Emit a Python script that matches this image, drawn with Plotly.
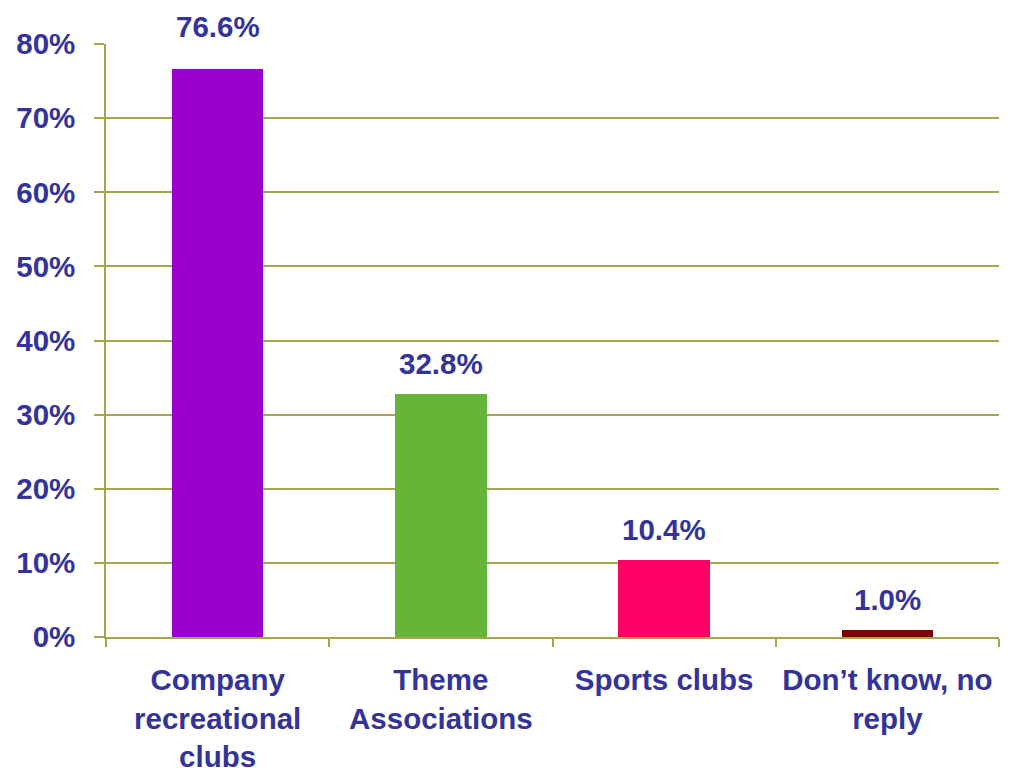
import plotly.graph_objects as go

# Survey results: share of respondents per type of club
categories = ["Company<br>recreational<br>clubs", "Theme<br>Associations", "Sports clubs", "Don’t know, no<br>reply"]
shares = [76.6, 32.8, 10.4, 1.0]
value_labels = ["76.6%", "32.8%", "10.4%", "1.0%"]
y_ticks = [0, 10, 20, 30, 40, 50, 60, 70, 80]
y_tick_labels = ["0%", "10%", "20%", "30%", "40%", "50%", "60%", "70%", "80%"]

bar_colors = ["#9900CC", "#66B539", "#FF0066", "#800000"]
label_shift = [24, 12, 12, 12]

text_color = "#333399"
grid_color = "#A6A64C"
font_family = "Liberation Sans, Arial, sans-serif"
font_size = 29.5

fig = go.Figure()
fig.add_trace(go.Bar(
    x=list(range(len(categories))),
    y=shares,
    marker=dict(color=bar_colors, line=dict(width=0)),
    width=0.41,
    hoverinfo="skip",
))

for i, (v, lab) in enumerate(zip(shares, value_labels)):
    fig.add_annotation(
        x=i, y=v, text=f"<b>{lab}</b>", showarrow=False,
        yanchor="bottom", yshift=label_shift[i],
        font=dict(size=font_size, color=text_color, family=font_family),
    )

fig.update_layout(
    width=1015, height=774,
    margin=dict(l=106, r=16, t=44, b=137),
    paper_bgcolor="white", plot_bgcolor="white",
    showlegend=False,
    font=dict(family=font_family, size=font_size, color=text_color),
    bargap=0,
)
fig.update_xaxes(
    tickmode="array",
    tickvals=list(range(len(categories))),
    ticktext=[f"<b>{c}</b>" for c in categories],
    range=[-0.5, 3.5],
    ticks="",
    ticklabelstandoff=16,
    # separator ticks between categories
    minor=dict(tickmode="linear", tick0=-0.5, dtick=1, ticks="outside",
               ticklen=8, tickcolor=grid_color, tickwidth=1.5, showgrid=False),
    showline=True, linecolor=grid_color, linewidth=1.5,
    showgrid=False, zeroline=False, automargin=False,
    tickfont=dict(size=font_size, color=text_color, family=font_family),
)
fig.update_yaxes(
    range=[0, 80],
    tickmode="array",
    tickvals=y_ticks,
    ticktext=[f"<b>{t}</b>" for t in y_tick_labels],
    ticks="outside", ticklen=10, tickcolor=grid_color, tickwidth=1.5,
    ticklabelstandoff=13,
    showline=True, linecolor=grid_color, linewidth=1.5,
    showgrid=True, gridcolor=grid_color, gridwidth=1.5,
    zeroline=False, automargin=False,
    tickfont=dict(size=font_size, color=text_color, family=font_family),
)

fig.write_html("out.html")
